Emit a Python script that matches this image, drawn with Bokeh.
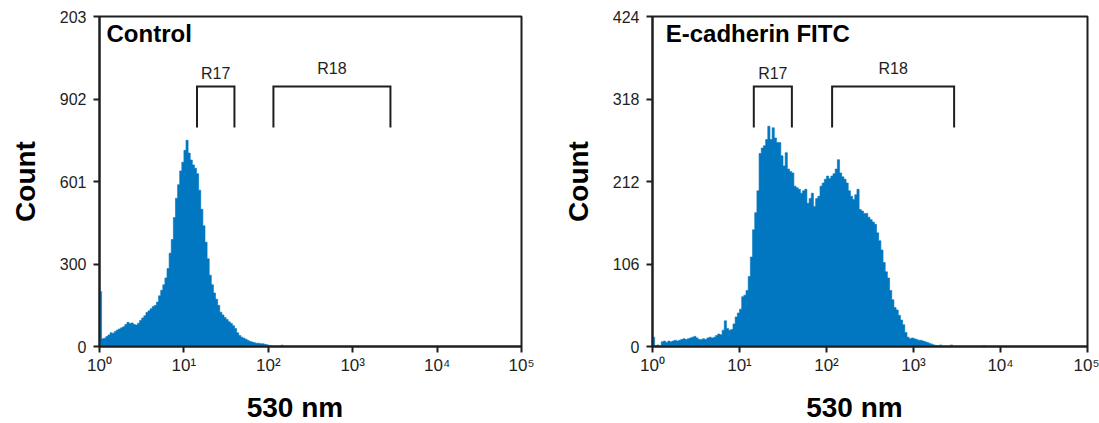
import numpy as np
from bokeh.plotting import figure
from bokeh.layouts import row
from bokeh.models import FixedTicker, Label, Range1d
from bokeh.embed import file_html
from bokeh.resources import INLINE

# ---------------- data ----------------
BIN_DECADES = 0.025  # histogram bin width in log10 units, bins start at 10^0

control_counts = [
    200, 28, 30, 36, 42, 50, 48, 55, 60, 64,
    68, 72, 80, 88, 84, 86, 80, 78, 85, 95,
    104, 112, 124, 130, 138, 146, 150, 162, 185, 205,
    225, 250, 284, 340, 390, 470, 540, 590, 640, 672,
    715, 752, 705, 680, 662, 650, 630, 570, 500, 440,
    380, 320, 260, 225, 195, 172, 150, 125, 115, 106,
    98, 90, 84, 76, 66, 50, 40, 34, 30, 26,
    22, 18, 16, 14, 12, 12, 10, 10, 8, 6,
    3, 2, 0, 1, 0, 0, 5,
]

ecad_counts = [
    12, 1, 2, 0, 6, 7, 5, 7, 6, 7,
    8, 7, 8, 9, 10, 9, 10, 11, 12, 13,
    11, 9, 9, 10, 9, 11, 12, 11, 12, 14,
    16, 15, 21, 33, 23, 21, 22, 29, 38, 43,
    48, 64, 66, 72, 90, 115, 150, 172, 200, 248,
    255, 258, 266, 283, 266, 281, 268, 262, 262, 245,
    232, 249, 228, 225, 223, 206, 204, 202, 197, 200,
    202, 184, 190, 197, 180, 190, 193, 206, 210, 215,
    219, 216, 219, 222, 228, 240, 223, 218, 215, 210,
    200, 193, 189, 195, 202, 176, 174, 171, 171, 166,
    163, 160, 157, 146, 136, 124, 108, 96, 88, 72,
    60, 50, 47, 40, 34, 28, 18, 12, 10, 11,
    10, 9, 8, 8, 7, 6, 5, 4, 3, 2,
    1, 1, 2, 0, 0, 0, 0, 2, 0, 0,
    0, 0, 0, 0, 0, 0, 0, 0, 0, 0,
    0, 0, 1,
]

x_ticks = [1, 10, 100, 1000, 10000, 100000]
x_tick_labels = ["10\u2070", "10\u00b9", "10\u00b2", "10\u00b3", "10\u2074", "10\u2075"]

control_y_ticks = [0, 300, 601, 902, 1203]
control_y_labels = ["0", "300", "601", "902", "203"]
ecad_y_ticks = [0, 106, 212, 318, 424]
ecad_y_labels = ["0", "106", "212", "318", "424"]

gate_names = ["R17", "R18"]
control_gates = [(14.3, 39.7), (115, 2800)]
ecad_gates = [(14.6, 40.0), (116, 2930)]

# ---------------- styling ----------------
BLUE = "#0077c0"
INK = "#1e1e1e"
FONT = "Liberation Sans"


def hist_outline(counts):
    c = np.asarray(counts, dtype=float)
    edges = 10 ** (np.arange(len(c) + 1) * BIN_DECADES)
    xs = np.column_stack([edges[:-1], edges[1:]]).ravel()
    ys = np.repeat(c, 2)
    xs = np.concatenate([[edges[0]], xs, [edges[-1]]])
    ys = np.concatenate([[0.0], ys, [0.0]])
    return xs, ys


def make_panel(counts, yticks, ylabels, title, title_x, gates,
               border_left, frame_w, border_right):
    ymax = yticks[-1]
    p = figure(x_axis_type="log", x_range=Range1d(1, 1e5), y_range=Range1d(0, ymax),
               frame_width=frame_w, frame_height=330,
               min_border_left=border_left, min_border_right=border_right,
               min_border_top=16, min_border_bottom=72,
               output_backend="svg", toolbar_location=None,
               background_fill_color="white", border_fill_color="white")
    p.grid.visible = False
    p.outline_line_color = INK
    p.outline_line_width = 2

    xs, ys = hist_outline(counts)
    p.patch(xs, ys, fill_color=BLUE, line_color=BLUE, line_width=0.6)

    # gates
    g_top = 0.788 * ymax
    g_bot = 0.664 * ymax
    gx = [[lo, lo, hi, hi] for lo, hi in gates]
    gy = [[g_bot, g_top, g_top, g_bot] for _ in gates]
    p.multi_line(gx, gy, line_color=INK, line_width=2, line_join="miter")
    label_levels = [0.827, 0.843]
    for name, (lo, hi), lv in zip(gate_names, gates, label_levels):
        p.add_layout(Label(x=float(np.sqrt(lo * hi)), y=lv * ymax, text=name,
                           text_align="center", text_baseline="middle",
                           text_font=FONT, text_font_size="16px", text_color=INK))

    p.add_layout(Label(x=title_x, y=0.988 * ymax, text=title, text_align="left",
                       text_baseline="top", text_font=FONT, text_font_style="bold",
                       text_font_size="24px", text_color="black"))

    for ax in (p.xaxis[0], p.yaxis[0]):
        ax.axis_line_color = INK
        ax.axis_line_width = 2
        ax.major_tick_line_color = INK
        ax.major_tick_line_width = 2
        ax.major_tick_out = 6
        ax.major_tick_in = 0
        ax.minor_tick_out = 0
        ax.minor_tick_in = 0
        ax.major_label_text_font = FONT
        ax.major_label_text_font_size = "16px"
        ax.major_label_text_color = INK
        ax.axis_label_text_font = FONT
        ax.axis_label_text_font_style = "bold"
        ax.axis_label_text_font_size = "28px"
        ax.axis_label_text_color = "black"

    p.xaxis.ticker = FixedTicker(ticks=x_ticks, minor_ticks=[])
    p.xaxis.major_label_overrides = dict(zip(x_ticks, x_tick_labels))
    p.xaxis.major_label_standoff = 3
    p.xaxis.major_label_text_font_size = "17px"
    p.xaxis.axis_label = "530 nm" + "\u00a0" * 4
    p.xaxis.axis_label_standoff = 14

    p.yaxis.ticker = FixedTicker(ticks=yticks, minor_ticks=[])
    p.yaxis.major_label_overrides = dict(zip(yticks, ylabels))
    p.yaxis.major_label_standoff = 7
    p.yaxis.axis_label = "Count"
    p.yaxis.axis_label_standoff = 16
    return p


left = make_panel(control_counts, control_y_ticks, control_y_labels, "Control", 1.21,
                  control_gates, 99, 422, 37)
right = make_panel(ecad_counts, ecad_y_ticks, ecad_y_labels, "E-cadherin FITC", 1.42,
                   ecad_gates, 94, 435, 12)

layout = row(left, right, spacing=0)
open("out.html", "w").write(file_html(layout, INLINE))
